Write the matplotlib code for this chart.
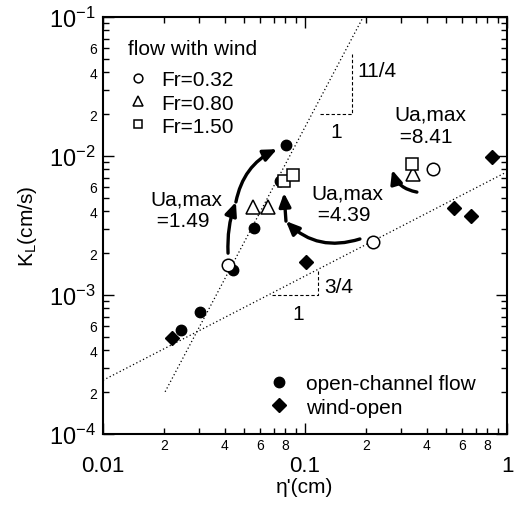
import numpy as np
import matplotlib
matplotlib.use("Agg")
import matplotlib.pyplot as plt
from matplotlib.ticker import LogLocator, FuncFormatter

plt.rcParams['font.family'] = ['Liberation Sans', 'DejaVu Sans']
plt.rcParams['mathtext.fontset'] = 'custom'
plt.rcParams['mathtext.rm'] = 'Liberation Sans'

# open-channel flow (no wind)
oc_eta = [0.0243, 0.0302, 0.0440, 0.0559, 0.0751, 0.0805]
oc_kl = [5.6e-4, 7.55e-4, 1.51e-3, 3.03e-3, 6.6e-3, 1.20e-2]

# wind over open water
wo_eta = [0.0220, 0.101, 0.547, 0.664, 0.843]
wo_kl = [4.9e-4, 1.73e-3, 4.23e-3, 3.7e-3, 9.8e-3]

# flow with wind, three Froude numbers
fr032_eta = [0.0416, 0.217, 0.430]
fr032_kl = [1.64e-3, 2.40e-3, 8.05e-3]
fr080_eta = [0.0553, 0.0656, 0.343]
fr080_kl = [4.3e-3, 4.3e-3, 7.4e-3]
fr150_eta = [0.0787, 0.0873, 0.340]
fr150_kl = [6.6e-3, 7.3e-3, 8.75e-3]

# reference power laws K_L = c * eta'^n
steep_c, steep_n = 9.08, 11 / 4
flat_c, flat_n = 7.7e-3, 3 / 4

FS = 15

fig = plt.figure(figsize=(5.18, 5.06), dpi=100)
ax = fig.add_axes([0.1988, 0.1403, 0.780, 0.8241])
ax.set_xscale('log')
ax.set_yscale('log')
ax.set_xlim(0.01, 1)
ax.set_ylim(1e-4, 1e-1)

# dotted power-law lines
xs = np.array([0.0203, 0.25])
ax.plot(xs, steep_c * xs ** steep_n, ls=(0, (1, 2)), color='k', lw=0.9, zorder=1)
xf = np.array([0.01, 1.0])
ax.plot(xf, flat_c * xf ** flat_n, ls=(0, (1, 2)), color='k', lw=0.9, zorder=1)

# slope triangles
tri_kw = dict(ls=(0, (3, 2)), color='k', lw=0.8)
ax.plot([0.1187, 0.171, 0.171], [0.02, 0.02, 0.02 * (0.171 / 0.1187) ** steep_n], **tri_kw)
ax.plot([0.0687, 0.116, 0.116], [1e-3, 1e-3, 1e-3 * (0.116 / 0.0687) ** flat_n], **tri_kw)
ax.text(0.181, 0.0409, '11/4', fontsize=FS, va='center', ha='left')
ax.text(0.142, 0.0149, '1', fontsize=FS, va='center', ha='center')
ax.text(0.124, 1.16e-3, '3/4', fontsize=FS, va='center', ha='left')
ax.text(0.0923, 7.4e-4, '1', fontsize=FS, va='center', ha='center')

# data
h_oc, = ax.plot(oc_eta, oc_kl, 'o', color='k', ms=7.5, ls='none', zorder=3,
                label='open-channel flow')
h_wo, = ax.plot(wo_eta, wo_kl, 'D', color='k', ms=7, ls='none', zorder=3,
                label='wind-open')
h_c, = ax.plot(fr032_eta, fr032_kl, 'o', mfc='white', mec='k', mew=1.1, ms=9,
               ls='none', zorder=4, label='Fr=0.32')
h_t, = ax.plot(fr080_eta, fr080_kl, '^', mfc='white', mec='k', mew=1.1, ms=10,
               ls='none', zorder=4, label='Fr=0.80')
h_s, = ax.plot(fr150_eta, fr150_kl, 's', mfc='white', mec='k', mew=1.1, ms=9,
               ls='none', zorder=5, label='Fr=1.50')


def curved_arrow(p0, p1, rad):
    ax.annotate('', xy=p1, xytext=p0,
                arrowprops=dict(arrowstyle='-|>,head_length=0.8,head_width=0.35',
                                color='k', lw=2.4, shrinkA=0, shrinkB=0,
                                connectionstyle='arc3,rad=%g' % rad),
                zorder=6)


# increasing wind speed
curved_arrow((0.0416, 2.0e-3), (0.0455, 4.67e-3), -0.1)
curved_arrow((0.0455, 4.67e-3), (0.0727, 1.12e-2), -0.25)
curved_arrow((0.187, 2.53e-3), (0.0805, 3.4e-3), -0.3)
curved_arrow((0.0805, 3.4e-3), (0.0787, 5.42e-3), 0.0)
curved_arrow((0.358, 5.5e-3), (0.27, 7.94e-3), -0.3)

ua_kw = dict(fontsize=FS, va='center', ha='left', linespacing=1.2)
ax.text(0.0172, 4.09e-3, 'Ua,max\n =1.49', **ua_kw)
ax.text(0.108, 4.52e-3, 'Ua,max\n =4.39', **ua_kw)
ax.text(0.276, 1.67e-2, 'Ua,max\n =8.41', **ua_kw)

# ticks
ax.xaxis.set_major_locator(LogLocator(base=10))
ax.yaxis.set_major_locator(LogLocator(base=10))
ax.xaxis.set_minor_locator(LogLocator(base=10, subs=np.arange(2, 10)))
ax.yaxis.set_minor_locator(LogLocator(base=10, subs=np.arange(2, 10)))


def minor_label(keep):
    def fmt(v, pos):
        m = int(round(v / 10 ** np.floor(np.log10(v) + 1e-9)))
        return str(m) if m in keep else ''
    return FuncFormatter(fmt)


ax.xaxis.set_major_formatter(FuncFormatter(lambda v, p: '%g' % v))
ax.yaxis.set_major_formatter(FuncFormatter(
    lambda v, p: r'$\mathregular{10^{%d}}$' % int(round(np.log10(v)))))
ax.xaxis.set_minor_formatter(minor_label((2, 4, 6, 8)))
ax.yaxis.set_minor_formatter(minor_label((2, 4, 6)))

ax.tick_params(which='both', direction='in', top=True, right=True, width=1)
ax.tick_params(which='major', length=8)
ax.tick_params(which='minor', length=4)
ax.tick_params(axis='x', which='major', labelsize=16, pad=15)
ax.tick_params(axis='x', which='minor', labelsize=10, pad=3)
ax.tick_params(axis='y', which='major', labelsize=17, pad=5)
ax.tick_params(axis='y', which='minor', labelsize=10, pad=4)
for s in ax.spines.values():
    s.set_linewidth(1.5)

ax.set_xlabel("\u03b7'(cm)", fontsize=15, labelpad=1)
ax.set_ylabel(r'K$_\mathregular{L}$(cm/s)', fontsize=15, labelpad=7)

# Froude-number key
ax.text(0.062, 0.925, 'flow with wind', transform=ax.transAxes, fontsize=FS,
        va='center', ha='left')
leg1 = ax.legend(handles=[h_c, h_t, h_s], loc='upper left',
                 bbox_to_anchor=(0.062, 0.872), frameon=False, fontsize=FS,
                 markerscale=0.7, handlelength=1.0, handletextpad=0.6,
                 labelspacing=0.2, borderpad=0, borderaxespad=0)
ax.add_artist(leg1)
ax.legend(handles=[h_oc, h_wo], loc='upper left', bbox_to_anchor=(0.41, 0.143),
          frameon=False, fontsize=FS, markerscale=1.0, handlelength=1.0,
          handletextpad=0.8, labelspacing=0.2, borderpad=0, borderaxespad=0)

fig.savefig('out.png', dpi=100)
